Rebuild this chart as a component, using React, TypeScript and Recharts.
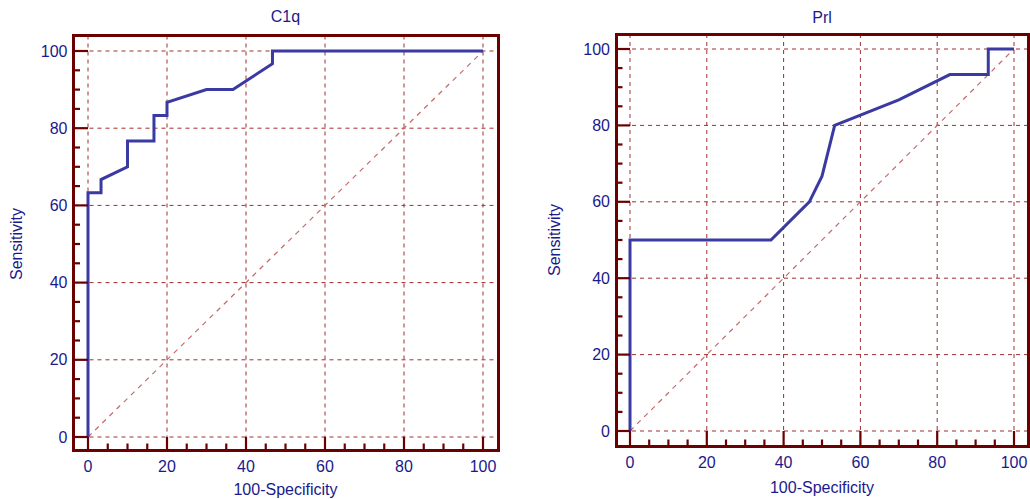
import { CartesianGrid, Line, LineChart, XAxis, YAxis } from 'recharts';

// ROC curve points (100-Specificity, Sensitivity)
const c1qSpec = [0, 0, 3.3, 3.3, 10, 10, 16.7, 16.7, 20, 20, 30, 36.7, 46.7, 46.7, 100];
const c1qSens = [0, 63.3, 63.3, 66.7, 70, 76.7, 76.7, 83.3, 83.3, 86.7, 90, 90, 96.7, 100, 100];

const prlSpec = [0, 0, 36.7, 46.7, 50, 53.3, 70, 83.3, 93.3, 93.3, 100];
const prlSens = [0, 50, 50, 60, 66.7, 80, 86.7, 93.3, 93.3, 100, 100];

const diagSpec = [0, 100];
const diagSens = [0, 100];

const axisTicks = [0, 5, 10, 15, 20, 25, 30, 35, 40, 45, 50, 55, 60, 65, 70, 75, 80, 85, 90, 95, 100];
const gridValues = [0, 20, 40, 60, 80, 100];

const FRAME = '#6b0000';
const GRID = '#9e2f2f';
const DIAG = '#c46a6a';
const CURVE = '#3a3aa2';
const TEXT = '#1a1a8c';
const FONT = '"Liberation Sans", Arial, sans-serif';

const toPoints = (xs: number[], ys: number[]) => xs.map((x, i) => ({ x, y: ys[i] }));

interface Pad {
  left: number;
  right: number;
  top: number;
  bottom: number;
}

interface PanelProps {
  title: string;
  offsetX: number;
  // frame centre-line inside the 515px panel
  frame: Pad;
  pad: Pad;
  points: { x: number; y: number }[];
  xLabelY: number;
  titleY: number;
  xTitleY: number;
  yTitleX: number;
}

const W = 515;
const H = 499;
const Y_AXIS_W = 40;
const X_AXIS_H = 30;

const labelStyle = {
  position: 'absolute' as const,
  width: 200,
  height: 20,
  lineHeight: '20px',
  textAlign: 'center' as const,
  color: TEXT,
  fontSize: 16,
  fontFamily: FONT,
};

const RocPanel = ({ title, offsetX, frame, pad, points, xLabelY, titleY, xTitleY, yTitleX }: PanelProps) => {
  const plotW = frame.right - frame.left;
  const plotH = frame.bottom - frame.top;
  const cx = frame.left + pad.left + (plotW - pad.left - pad.right) / 2;
  const cy = frame.top + pad.top + (plotH - pad.top - pad.bottom) / 2;

  const YTick = (props: any) => {
    const { x, y, payload } = props;
    const major = payload.value % 20 === 0;
    return (
      <g>
        <line x1={x} x2={x + (major ? pad.left : 6.5)} y1={y} y2={y} stroke={FRAME} strokeWidth={2.2} />
        {major && (
          <text x={x - 6} y={y} textAnchor="end" dominantBaseline="central" fill={TEXT} fontSize={16} fontFamily={FONT}>
            {payload.value}
          </text>
        )}
      </g>
    );
  };

  const XTick = (props: any) => {
    const { x, y, payload } = props;
    const major = payload.value % 20 === 0;
    return (
      <g>
        <line x1={x} x2={x} y1={y} y2={y - (major ? pad.bottom : 6.5)} stroke={FRAME} strokeWidth={2.2} />
        <text x={x} y={xLabelY} textAnchor="middle" dominantBaseline="central" fill={TEXT} fontSize={16} fontFamily={FONT}>
          {major ? payload.value : ''}
        </text>
      </g>
    );
  };

  return (
    <div style={{ position: 'absolute', left: offsetX, top: 0, width: W, height: H }}>
      <LineChart
        width={W}
        height={H}
        margin={{
          top: frame.top,
          left: frame.left - Y_AXIS_W,
          right: W - frame.right,
          bottom: H - frame.bottom - X_AXIS_H,
        }}
      >
        <CartesianGrid
          stroke={GRID}
          strokeDasharray="4 4"
          verticalValues={gridValues}
          horizontalValues={gridValues}
        />
        <XAxis
          type="number"
          dataKey="x"
          domain={[0, 100]}
          ticks={axisTicks}
          interval={0}
          padding={{ left: pad.left, right: pad.right }}
          height={X_AXIS_H}
          axisLine={false}
          tickLine={false}
          tickSize={0}
          tickMargin={0}
          tick={<XTick />}
        />
        <YAxis
          type="number"
          dataKey="y"
          domain={[0, 100]}
          ticks={axisTicks}
          interval={0}
          padding={{ top: pad.top, bottom: pad.bottom }}
          width={Y_AXIS_W}
          axisLine={false}
          tickLine={false}
          tickSize={0}
          tickMargin={0}
          tick={<YTick />}
        />
        <Line
          data={toPoints(diagSpec, diagSens)}
          dataKey="y"
          type="linear"
          stroke={DIAG}
          strokeWidth={1.2}
          strokeDasharray="5 5"
          dot={false}
          activeDot={false}
          isAnimationActive={false}
        />
        <Line
          data={points}
          dataKey="y"
          type="linear"
          stroke={CURVE}
          strokeWidth={3}
          strokeLinejoin="miter"
          dot={false}
          activeDot={false}
          isAnimationActive={false}
        />
      </LineChart>
      <div
        style={{
          position: 'absolute',
          left: frame.left - 1.5,
          top: frame.top - 1.5,
          width: plotW + 3,
          height: plotH + 3,
          border: `3px solid ${FRAME}`,
          boxSizing: 'border-box',
          pointerEvents: 'none',
        }}
      />
      <div style={{ ...labelStyle, left: cx - 100, top: titleY - 10 }}>{title}</div>
      <div style={{ ...labelStyle, left: cx - 100, top: xTitleY - 10 }}>100-Specificity</div>
      <div style={{ ...labelStyle, left: yTitleX - 100, top: cy - 10, transform: 'rotate(-90deg)' }}>
        Sensitivity
      </div>
    </div>
  );
};

export default function App() {
  return (
    <div style={{ position: 'absolute', left: 0, top: 0, width: 1030, height: 499, background: '#fff', overflow: 'hidden' }}>
      <RocPanel
        title="C1q"
        offsetX={0}
        frame={{ left: 73.5, right: 498.5, top: 35.5, bottom: 450 }}
        pad={{ left: 14.5, right: 15.5, top: 15.5, bottom: 13 }}
        points={toPoints(c1qSpec, c1qSens)}
        xLabelY={466}
        titleY={17}
        xTitleY={490}
        yTitleX={17}
      />
      <RocPanel
        title="Prl"
        offsetX={515}
        frame={{ left: 101, right: 513, top: 34, bottom: 446 }}
        pad={{ left: 14, right: 14, top: 15, bottom: 15 }}
        points={toPoints(prlSpec, prlSens)}
        xLabelY={462}
        titleY={18}
        xTitleY={488}
        yTitleX={40}
      />
    </div>
  );
}
